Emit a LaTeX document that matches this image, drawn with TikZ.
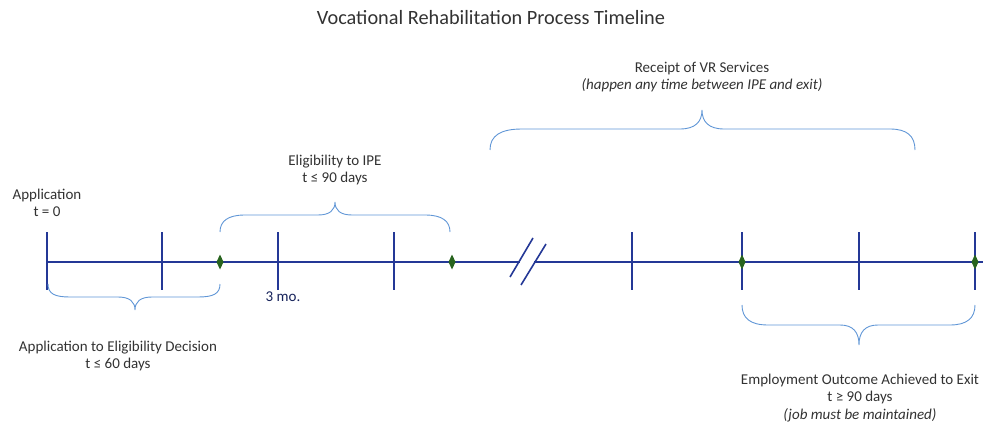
\documentclass[tikz,border=0pt]{standalone}
\usepackage{fontspec}
\setmainfont{Carlito}
\begin{document}
\begin{tikzpicture}[x=1pt,y=-1pt,
  axisline/.style={draw=axisblue,line width=1.6pt},
  tickmark/.style={draw=axisblue,line width=1.6pt},
  brace/.style={draw=braceblue,line width=0.9pt},
  lbl/.style={text=txtgray,font=\fontsize{15}{17.5}\selectfont,align=center,inner sep=0pt},
  gem/.style={fill=gemgreen,draw=none}]
\definecolor{axisblue}{RGB}{36,56,150}
\definecolor{braceblue}{RGB}{96,150,214}
\definecolor{txtgray}{RGB}{50,50,50}
\definecolor{gemgreen}{RGB}{40,100,30}
\useasboundingbox (0,0) rectangle (983,425);

% title
\node[lbl,font=\fontsize{20.3}{24}\selectfont] (title) at (491,18) {Vocational Rehabilitation Process Timeline};

% axis
\coordinate (a0) at (47,262);
\coordinate (a1) at (983,262);
\draw[axisline] (a0) -- (a1);

% ticks
\foreach \x [count=\i] in {47,162,278,394,632,742,859,975}{
  \coordinate (t\i top) at (\x,232);
  \coordinate (t\i bot) at (\x,290);
  \draw[tickmark] (t\i top) -- (t\i bot);
}

% break marks
\coordinate (b1s) at (510,277); \coordinate (b1e) at (533,238);
\coordinate (b2s) at (521,285); \coordinate (b2e) at (546,244);
\fill[white] (520,257) rectangle (534,267);
\draw[tickmark] (b1s) -- (b1e);
\draw[tickmark] (b2s) -- (b2e);

% milestones (diamonds)
\foreach \x [count=\i] in {220,452,742,975}{
  \coordinate (m\i) at (\x,262);
  \fill[gem] ([yshift=-7.5]m\i) -- ([xshift=3.5]m\i) -- ([yshift=7.5]m\i) -- ([xshift=-3.5]m\i) -- cycle;
}

% brace 1 (below, application to eligibility)
\draw[brace] (48,284) .. controls (48,294) and (55,297) .. (70,297) -- (118,297)
  .. controls (130,297) and (135,302) .. (135,310)
  .. controls (135,302) and (140,297) .. (152,297) -- (198,297)
  .. controls (213,297) and (220,294) .. (220,284);

% brace 2 (above, eligibility to IPE)
\draw[brace] (220,232) .. controls (220,221) and (228,215) .. (245,215) -- (318,215)
  .. controls (330,215) and (335,210) .. (335,202)
  .. controls (335,210) and (340,215) .. (352,215) -- (425,215)
  .. controls (442,215) and (450,221) .. (450,232);

% brace 3 (above, VR services)
\draw[brace] (490,150) .. controls (490,136) and (500,129) .. (522,129) -- (680,129)
  .. controls (695,129) and (702,122) .. (702,110)
  .. controls (702,122) and (709,129) .. (724,129) -- (890,129)
  .. controls (907,129) and (915,136) .. (915,150);

% brace 4 (below, employment to exit)
\draw[brace] (742,305) .. controls (742,318) and (750,325) .. (768,325) -- (840,325)
  .. controls (853,325) and (859,332) .. (859,345)
  .. controls (859,332) and (865,325) .. (878,325) -- (950,325)
  .. controls (967,325) and (975,318) .. (975,305);

% labels
\node[lbl] (app) at (47,203) {Application\\t = 0};
\node[lbl] (elig) at (335,170) {Eligibility to IPE\\t ≤ 90 days};
\node[lbl,text=axisblue!60!black] (mo) at (283,297) {3 mo.};
\node[lbl] (appelig) at (118,356) {Application to Eligibility Decision\\t ≤ 60 days};
\node[lbl] (vr) at (702,77) {Receipt of VR Services\\\textit{(happen any time between IPE and exit)}};
\node[lbl] (emp) at (860,398) {Employment Outcome Achieved to Exit\\t ≥ 90 days\\\textit{(job must be maintained)}};
\end{tikzpicture}
\end{document}
